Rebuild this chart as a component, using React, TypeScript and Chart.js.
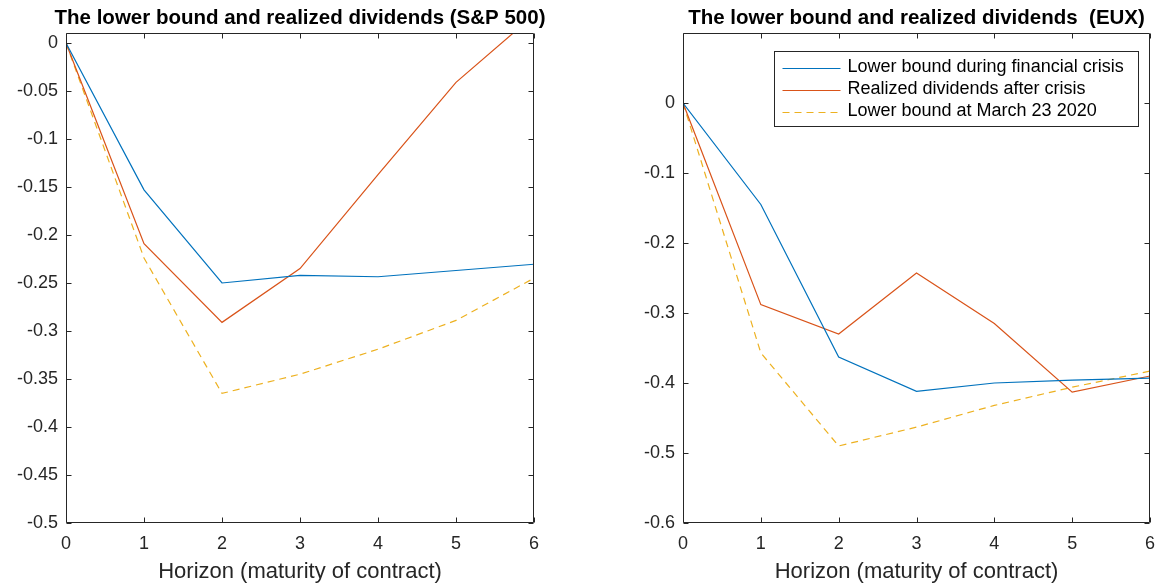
import { useEffect, useRef } from 'react';
import { Chart, registerables } from 'chart.js';

Chart.register(...registerables);

// ---------- data ----------
const horizons = [0, 1, 2, 3, 4, 5, 6];

const seriesNames = [
  'Lower bound during financial crisis',
  'Realized dividends after crisis',
  'Lower bound at March 23 2020',
];

// S&P 500 panel
const spxLowerBoundCrisis = [0, -0.153, -0.25, -0.242, -0.2435, -0.237, -0.2305];
const spxRealizedDividends = [0, -0.209, -0.291, -0.235, -0.137, -0.041, 0.029];
const spxLowerBoundMarch2020 = [0, -0.224, -0.365, -0.345, -0.319, -0.289, -0.245];

// EUX panel
const euxLowerBoundCrisis = [0, -0.145, -0.363, -0.412, -0.4, -0.396, -0.393];
const euxRealizedDividends = [0, -0.288, -0.33, -0.243, -0.315, -0.413, -0.39];
const euxLowerBoundMarch2020 = [0, -0.357, -0.49, -0.463, -0.432, -0.406, -0.383];

const xTicks = [0, 1, 2, 3, 4, 5, 6];
const spxYTicks = [-0.5, -0.45, -0.4, -0.35, -0.3, -0.25, -0.2, -0.15, -0.1, -0.05, 0];
const euxYTicks = [-0.6, -0.5, -0.4, -0.3, -0.2, -0.1, 0];

const spxTitle = 'The lower bound and realized dividends (S&P 500)';
const euxTitle = 'The lower bound and realized dividends  (EUX)';
const xAxisTitle = 'Horizon (maturity of contract)';

// ---------- styles ----------
const FONT = "'Liberation Sans', Arial, Helvetica, sans-serif";
const COLORS = ['#0072BD', '#D95319', '#EDB120'];
const AXIS_COLOR = '#262626';
const DASH = [7, 5];

type PanelProps = {
  title: string;
  series: number[][];
  yTicks: number[];
  yMin: number;
  yMax: number;
  yAxisWidth: number;
  padRight: number;
  showLegend: boolean;
};

const boxPlugin = {
  id: 'matlabBox',
  afterDraw(chart: any, _args: any, opts: any) {
    const { ctx, chartArea } = chart;
    const { left, right, top, bottom } = chartArea;
    const xs = chart.scales.x;
    const ys = chart.scales.y;
    ctx.save();

    // title centred over the axes
    if (opts && opts.title) {
      ctx.fillStyle = '#000000';
      ctx.font = `bold 20.5px ${FONT}`;
      ctx.textAlign = 'center';
      ctx.textBaseline = 'middle';
      ctx.fillText(opts.title, (left + right) / 2 + (opts.titleShift || 0), 18);
    }

    ctx.strokeStyle = AXIS_COLOR;
    ctx.lineWidth = 1;
    ctx.setLineDash([]);
    const L = Math.round(left) + 0.5;
    const R = Math.round(right) - 0.5;
    const T = Math.round(top) + 0.5;
    const B = Math.round(bottom) - 0.5;
    ctx.beginPath();
    ctx.rect(L, T, R - L, B - T);
    ctx.stroke();
    const tl = 5;
    ctx.beginPath();
    xs.ticks.forEach((t: any) => {
      const px = Math.round(xs.getPixelForValue(t.value)) + 0.5;
      ctx.moveTo(px, B);
      ctx.lineTo(px, B - tl);
      ctx.moveTo(px, T);
      ctx.lineTo(px, T + tl);
    });
    ys.ticks.forEach((t: any) => {
      const py = Math.round(ys.getPixelForValue(t.value)) + 0.5;
      ctx.moveTo(L, py);
      ctx.lineTo(L + tl, py);
      ctx.moveTo(R, py);
      ctx.lineTo(R - tl, py);
    });
    ctx.stroke();

    if (opts && opts.legend) {
      const bw = 364;
      const bh = 75;
      const bx = Math.round(right) - 12 - bw + 0.5;
      const by = Math.round(top) + 18 + 0.5;
      ctx.fillStyle = '#ffffff';
      ctx.fillRect(bx, by, bw, bh);
      ctx.strokeStyle = AXIS_COLOR;
      ctx.strokeRect(bx, by, bw, bh);
      ctx.font = `18px ${FONT}`;
      ctx.textBaseline = 'middle';
      ctx.textAlign = 'left';
      seriesNames.forEach((name, i) => {
        const yy = by + 16 + i * 22;
        ctx.strokeStyle = COLORS[i];
        ctx.lineWidth = 1;
        ctx.setLineDash(i === 2 ? DASH : []);
        ctx.beginPath();
        ctx.moveTo(bx + 8, Math.round(yy) + 0.5);
        ctx.lineTo(bx + 66, Math.round(yy) + 0.5);
        ctx.stroke();
        ctx.setLineDash([]);
        ctx.fillStyle = '#000000';
        ctx.fillText(name, bx + 73, yy);
      });
    }
    ctx.restore();
  },
};

function Panel(props: PanelProps) {
  const ref = useRef<HTMLCanvasElement | null>(null);
  useEffect(() => {
    if (!ref.current) return;
    const datasets = props.series.map((vals, i) => ({
      label: seriesNames[i],
      data: horizons.map((h, j) => ({ x: h, y: vals[j] })),
      borderColor: COLORS[i],
      backgroundColor: COLORS[i],
      borderWidth: 1.2,
      borderDash: i === 2 ? DASH : [],
      pointRadius: 0,
      tension: 0,
      fill: false,
      clip: 0,
    }));
    const chart = new Chart(ref.current, {
      type: 'line',
      data: { datasets },
      plugins: [boxPlugin],
      options: {
        responsive: false,
        animation: false,
        layout: { padding: { top: 33, right: props.padRight, bottom: 0, left: 0 } },
        plugins: {
          legend: { display: false },
          tooltip: { enabled: false },
          title: { display: false },
          matlabBox: { legend: props.showLegend, title: props.title },
        } as any,
        scales: {
          x: {
            type: 'linear',
            min: 0,
            max: 6,
            grid: { display: false, drawTicks: false },
            border: { display: false },
            afterBuildTicks: (s: any) => {
              s.ticks = xTicks.map((v) => ({ value: v }));
            },
            afterFit: (s: any) => {
              s.height = 62;
            },
            ticks: {
              color: AXIS_COLOR,
              padding: 10,
              maxRotation: 0,
              autoSkip: false,
              font: { family: FONT, size: 18 },
              callback: (v: any) => String(v),
            },
            title: {
              display: true,
              text: xAxisTitle,
              color: AXIS_COLOR,
              font: { family: FONT, size: 22 },
              padding: { top: 0, bottom: 0 },
            },
          },
          y: {
            type: 'linear',
            min: props.yMin,
            max: props.yMax,
            grid: { display: false, drawTicks: false },
            border: { display: false },
            afterBuildTicks: (s: any) => {
              s.ticks = props.yTicks.map((v) => ({ value: v }));
            },
            afterFit: (s: any) => {
              s.width = props.yAxisWidth;
            },
            ticks: {
              color: AXIS_COLOR,
              padding: 8,
              autoSkip: false,
              font: { family: FONT, size: 18 },
              callback: (v: any) => String(Math.round(Number(v) * 10000) / 10000),
            },
          },
        },
      } as any,
    });
    return () => chart.destroy();
  }, []);
  return <canvas ref={ref} width={585} height={585} style={{ display: 'block', width: 585, height: 585 }} />;
}

export default function App() {
  useEffect(() => {
    document.body.style.margin = '0';
    document.body.style.background = '#ffffff';
  }, []);
  return (
    <div style={{ position: 'relative', width: 1171, height: 585, background: '#ffffff' }}>
      <div style={{ position: 'absolute', left: 0, top: 0 }}>
        <Panel
          title={spxTitle}
          series={[spxLowerBoundCrisis, spxRealizedDividends, spxLowerBoundMarch2020]}
          yTicks={spxYTicks}
          yMin={-0.5}
          yMax={0.0104}
          yAxisWidth={66}
          padRight={51}
          showLegend={false}
        />
      </div>
      <div style={{ position: 'absolute', left: 586, top: 0 }}>
        <Panel
          title={euxTitle}
          series={[euxLowerBoundCrisis, euxRealizedDividends, euxLowerBoundMarch2020]}
          yTicks={euxYTicks}
          yMin={-0.6}
          yMax={0.1}
          yAxisWidth={97}
          padRight={21}
          showLegend={true}
        />
      </div>
    </div>
  );
}
